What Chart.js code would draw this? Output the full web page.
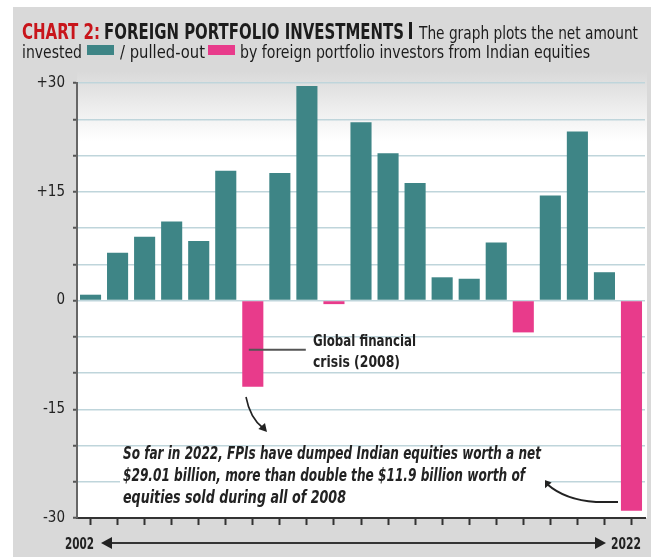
<!DOCTYPE html>
<html>
<head>
<meta charset="utf-8">
<script src="https://cdn.jsdelivr.net/npm/chart.js@4.4.1/dist/chart.umd.min.js"></script>
<style>
  html, body { margin: 0; padding: 0; background: #ffffff; }
  #wrap { position: relative; width: 651px; height: 559px; }
  canvas { display: block; }
</style>
</head>
<body>
<div id="wrap"><canvas id="fpiChart" width="651" height="559"></canvas></div>
<script>
// FPI net flows into Indian equities, US$ billion
const years = ["2002", "2003", "2004", "2005", "2006", "2007", "2008", "2009", "2010", "2011",
  "2012", "2013", "2014", "2015", "2016", "2017", "2018", "2019", "2020", "2021", "2022"];
const netFlows = [0.8, 6.6, 8.8, 10.9, 8.2, 17.9, -11.9, 17.6, 29.6, -0.5,
  24.6, 20.3, 16.2, 3.2, 3.0, 8.0, -4.4, 14.5, 23.3, 3.9, -29.01];
const yMin = -30;
const yMax = 30;
const yStep = 5;
const labelledTicks = [-30, -15, 0, 15, 30];

const TEAL = "#3e8586";
const PINK = "#e83b8b";
const BG = "#d9d9d9";
const COND = "'Liberation Sans Narrow', 'DejaVu Sans Condensed', 'Roboto', sans-serif";

// draw text squeezed/stretched to a given width
function fitText(ctx, text, x, y, w, font, color) {
  ctx.save();
  ctx.font = font;
  ctx.fillStyle = color;
  ctx.textBaseline = "alphabetic";
  const m = ctx.measureText(text).width;
  ctx.translate(x, y);
  ctx.scale(w / m, 1);
  ctx.fillText(text, 0, 0);
  ctx.restore();
}

function arrowHead(ctx, x, y, angle, size) {
  ctx.save();
  ctx.translate(x, y);
  ctx.rotate(angle);
  ctx.beginPath();
  ctx.moveTo(0, 0);
  ctx.lineTo(-size, -size * 0.55);
  ctx.lineTo(-size, size * 0.55);
  ctx.closePath();
  ctx.fill();
  ctx.restore();
}

const backdrop = {
  id: "backdrop",
  beforeDraw(chart) {
    const { ctx, chartArea: a } = chart;
    ctx.save();
    ctx.fillStyle = "#ffffff";
    ctx.fillRect(0, 0, chart.width, chart.height);
    ctx.fillStyle = BG;
    ctx.fillRect(13, 7, chart.width - 13, chart.height - 9);
    // white panel behind the plot, fading from grey at the top
    const g = ctx.createLinearGradient(0, a.top - 12, 0, a.top + 58);
    g.addColorStop(0, BG);
    g.addColorStop(1, "#ffffff");
    ctx.fillStyle = g;
    ctx.fillRect(a.left, a.top - 12, a.right + 2 - a.left, a.bottom - a.top + 12);
    ctx.restore();
  },
};

const notes = {
  id: "notes",
  afterDraw(chart) {
    const { ctx } = chart;
    const x = chart.scales.x;
    const y = chart.scales.y;

    // header
    fitText(ctx, "CHART 2:", 22, 39, 78, "bold 21px " + COND, "#c8151b");
    fitText(ctx, "FOREIGN PORTFOLIO INVESTMENTS", 104, 39, 300, "bold 21px " + COND, "#1c1c1c");
    ctx.fillStyle = "#1c1c1c";
    ctx.fillRect(409, 22, 3, 17);
    fitText(ctx, "The graph plots the net amount", 419, 39, 219, "17px " + COND, "#1c1c1c");
    fitText(ctx, "invested", 22, 58, 60, "17px " + COND, "#1c1c1c");
    ctx.fillStyle = TEAL;
    ctx.fillRect(87, 45, 27, 10);
    fitText(ctx, "/ pulled-out", 120, 58, 85, "17px " + COND, "#1c1c1c");
    ctx.fillStyle = PINK;
    ctx.fillRect(208, 45, 27, 10);
    fitText(ctx, "by foreign portfolio investors from Indian equities", 240, 58, 350, "17px " + COND, "#1c1c1c");

    // 2008 callout
    const cx = x.getPixelForValue(6);
    const cy = y.getPixelForValue(-6.8);
    ctx.save();
    ctx.strokeStyle = "#555";
    ctx.lineWidth = 2;
    ctx.beginPath();
    ctx.moveTo(cx - 4, cy);
    ctx.lineTo(cx + 53, cy);
    ctx.stroke();
    ctx.restore();
    fitText(ctx, "Global financial", 313, 346, 103, "bold 16px " + COND, "#222");
    fitText(ctx, "crisis (2008)", 313, 367, 87, "bold 16px " + COND, "#222");

    // curved arrow under the 2008 bar
    ctx.save();
    ctx.strokeStyle = "#222";
    ctx.fillStyle = "#222";
    ctx.lineWidth = 1.6;
    ctx.beginPath();
    ctx.moveTo(246, 397);
    ctx.quadraticCurveTo(250, 418, 263, 428);
    ctx.stroke();
    arrowHead(ctx, 267, 432, Math.atan2(9, 8), 8);

    // curved arrow from the 2022 bar
    ctx.lineWidth = 2;
    ctx.beginPath();
    ctx.moveTo(618, 502);
    ctx.lineTo(596, 502);
    ctx.quadraticCurveTo(565, 500, 547, 484);
    ctx.stroke();
    arrowHead(ctx, 542, 479, Math.atan2(-8, -7), 9);
    ctx.restore();

    // note text on a white box
    ctx.save();
    ctx.fillStyle = "#ffffff";
    ctx.fillRect(120, 463, 425, 44);
    ctx.restore();
    const note = "italic bold 17px " + COND;
    fitText(ctx, "So far in 2022, FPIs have dumped Indian equities worth a net", 123, 459, 418, note, "#222");
    fitText(ctx, "$29.01 billion, more than double the $11.9 billion worth of", 123, 481, 402, note, "#222");
    fitText(ctx, "equities sold during all of 2008", 123, 503, 223, note, "#222");

    // year range below the axis
    const ay = 543;
    fitText(ctx, "2002", 65, ay + 6, 29, "bold 15px " + COND, "#222");
    fitText(ctx, "2022", 611, ay + 6, 30, "bold 15px " + COND, "#222");
    ctx.save();
    ctx.strokeStyle = "#333";
    ctx.fillStyle = "#222";
    ctx.lineWidth = 2;
    ctx.beginPath();
    ctx.moveTo(108, ay);
    ctx.lineTo(598, ay);
    ctx.stroke();
    arrowHead(ctx, 101, ay, Math.PI, 11);
    arrowHead(ctx, 606, ay, 0, 11);
    ctx.restore();
  },
};

new Chart(document.getElementById("fpiChart"), {
  type: "bar",
  data: {
    labels: years,
    datasets: [
      {
        data: netFlows,
        backgroundColor: netFlows.map((v) => (v >= 0 ? TEAL : PINK)),
        borderWidth: 0,
        barPercentage: 0.78,
        categoryPercentage: 1,
      },
    ],
  },
  options: {
    responsive: false,
    animation: false,
    devicePixelRatio: 1,
    layout: { padding: { left: 14, top: 83, right: 6, bottom: 0 } },
    plugins: {
      legend: { display: false },
      tooltip: { enabled: false },
    },
    scales: {
      x: {
        offset: true,
        grid: {
          offset: false,
          drawOnChartArea: false,
          drawTicks: true,
          tickLength: 7,
          tickColor: "#333",
          tickWidth: 2,
        },
        border: { color: "#333", width: 2 },
        ticks: { display: false },
        afterFit: (s) => { s.height = 41; },
      },
      y: {
        min: yMin,
        max: yMax,
        grid: {
          color: "#bfd5db",
          lineWidth: 1.5,
          tickLength: 4,
          tickColor: "#555",
          tickWidth: 2,
        },
        border: { color: "#666", width: 2 },
        ticks: {
          stepSize: yStep,
          padding: 8,
          color: "#222",
          font: { family: COND, size: 15 },
          callback: (v) => (labelledTicks.includes(v) ? (v > 0 ? "+" + v : String(v)) : ""),
        },
        afterFit: (s) => { s.width = 63; },
      },
    },
  },
  plugins: [backdrop, notes],
});
</script>
</body>
</html>
